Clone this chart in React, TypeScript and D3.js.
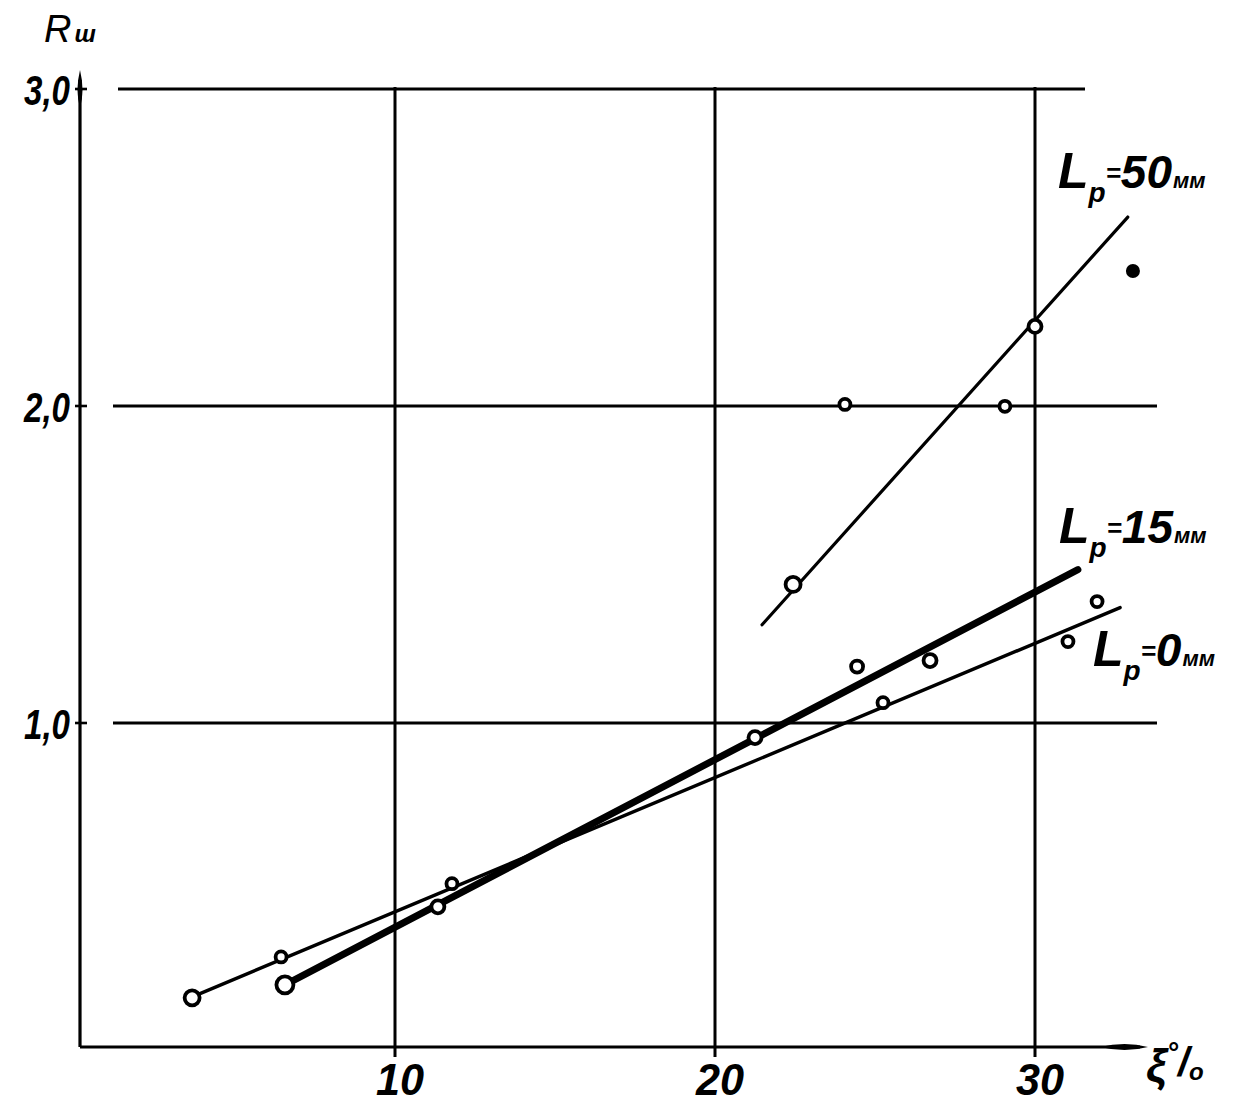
// Rш vs ξ% for three Lр values — scanned hand-drawn chart redrawn with d3 scales.
import * as d3 from "d3";

const yTicks = [1, 2, 3];
const yTickLabels = ["1,0", "2,0", "3,0"];
const xTicks = [10, 20, 30];
const xTickLabels = ["10", "20", "30"];

// measured points (ξ %, Rш)
const pts50 = [
  { x: 22.44, y: 1.437, r: 7.5 },
  { x: 24.06, y: 2.005, r: 5.5 },
  { x: 29.06, y: 1.999, r: 5.5 },
  { x: 30.0, y: 2.251, r: 6.5 },
];
const dot50 = [{ x: 33.06, y: 2.426 }];
const pts15 = [
  { x: 6.56, y: 0.174, r: 8.5 },
  { x: 11.34, y: 0.42, r: 6.5 },
  { x: 21.25, y: 0.954, r: 6.5 },
  { x: 24.44, y: 1.178, r: 6 },
  { x: 26.72, y: 1.197, r: 6.5 },
];
const pts0 = [
  { x: 3.66, y: 0.133, r: 7.5 },
  { x: 6.44, y: 0.262, r: 5.5 },
  { x: 11.78, y: 0.493, r: 5.5 },
  { x: 25.25, y: 1.064, r: 5.5 },
  { x: 31.03, y: 1.257, r: 5.5 },
  { x: 31.94, y: 1.383, r: 5.5 },
];
// fitted straight lines [x0, y0, x1, y1]
const fit50 = [21.47, 1.31, 32.9, 2.596];
const fit15 = [6.56, 0.174, 31.34, 1.484];
const fit0 = [3.59, 0.133, 32.66, 1.364];

const x = d3.scaleLinear().domain([0, 10]).range([75, 395]);
const y = d3.scaleLinear().domain([0, 1]).range([1040, 723]);

const FONT = "'Liberation Sans', Arial, sans-serif";
const INK = "#000";

function Fit({ f, w }: { f: number[]; w: number }) {
  return (
    <line x1={x(f[0])} y1={y(f[1])} x2={x(f[2])} y2={y(f[3])}
          stroke={INK} strokeWidth={w} strokeLinecap="round" />
  );
}

function Circles({ data }: { data: { x: number; y: number; r: number }[] }) {
  return (
    <g>
      {data.map((d, i) => (
        <circle key={i} cx={x(d.x)} cy={y(d.y)} r={d.r}
                fill="#fff" stroke={INK} strokeWidth={3.8} />
      ))}
    </g>
  );
}

function Lp({ px, py, val }: { px: number; py: number; val: string }) {
  // "Lр=50мм" lettering: big L, subscript р, "=", number, subscript мм
  return (
    <text x={px} y={py} fontFamily={FONT} fontWeight="bold" fontStyle="italic" fill={INK}>
      <tspan fontSize={50}>L</tspan>
      <tspan fontSize={28} dy={14}>р</tspan>
      <tspan fontSize={26} dy={-20}>=</tspan>
      <tspan fontSize={46} dy={6}>{val}</tspan>
      <tspan fontSize={22} dx={1}>мм</tspan>
    </text>
  );
}

export default function App() {
  const W = 1235, H = 1106;
  const axisY = 1047, axisX = 80;
  return (
    <svg width={W} height={H} viewBox={`0 0 ${W} ${H}`}
         style={{ display: "block", margin: -8, background: "#fff" }}>
      {/* horizontal grid */}
      {yTicks.map((t) => (
        <line key={t} x1={t === 3 ? 118 : 113} x2={t === 3 ? 1085 : 1157}
              y1={y(t)} y2={y(t)} stroke={INK} strokeWidth={3} />
      ))}
      {/* vertical grid */}
      {xTicks.map((t) => (
        <line key={t} x1={x(t)} x2={x(t)} y1={y(3) - 2} y2={axisY + 10}
              stroke={INK} strokeWidth={3} />
      ))}

      {/* axes */}
      <line x1={axisX} x2={1140} y1={axisY} y2={axisY} stroke={INK} strokeWidth={3.2} />
      <line x1={axisX} x2={axisX} y1={axisY} y2={80} stroke={INK} strokeWidth={3.2} />
      <path d={`M1100,${axisY} Q1125,${axisY - 6} 1148,${axisY} Q1125,${axisY + 6} 1100,${axisY} Z`} fill={INK} />
      <path d={`M${axisX},108 Q${axisX - 5},90 ${axisX},70 Q${axisX + 5},90 ${axisX},108 Z`} fill={INK} />
      {yTicks.map((t) => (
        <line key={t} x1={axisX - 5} x2={axisX + 7} y1={y(t)} y2={y(t)} stroke={INK} strokeWidth={2.6} />
      ))}

      {/* tick labels */}
      {yTicks.map((t, i) => (
        <text key={t} x={70} y={y(t) + 16} textAnchor="end" fontFamily={FONT}
              fontWeight="bold" fontStyle="italic" fontSize={42} fill={INK}
              textLength={46} lengthAdjust="spacingAndGlyphs">{yTickLabels[i]}</text>
      ))}
      {xTicks.map((t, i) => (
        <text key={t} x={x(t) + 5} y={1095} textAnchor="middle" fontFamily={FONT}
              fontWeight="bold" fontStyle="italic" fontSize={44} fill={INK}
              textLength={48} lengthAdjust="spacingAndGlyphs">{xTickLabels[i]}</text>
      ))}

      {/* axis titles */}
      <text x={44} y={42} fontFamily={FONT} fontStyle="italic" fill={INK}>
        <tspan fontSize={38}>R</tspan>
        <tspan fontSize={24} fontWeight="bold" dx={3}>ш</tspan>
      </text>
      <text x={1146} y={1082} fontFamily={FONT} fontWeight="bold" fontStyle="italic" fill={INK}>
        <tspan fontSize={46}>ξ</tspan>
        <tspan fontSize={28} dy={-20}>°</tspan>
        <tspan fontSize={40} dy={14}>/</tspan>
        <tspan fontSize={24} dy={4}>o</tspan>
      </text>

      {/* fitted lines */}
      <Fit f={fit50} w={3.2} />
      <Fit f={fit0} w={3.4} />
      <Fit f={fit15} w={7} />

      {/* markers */}
      <Circles data={pts50} />
      <Circles data={pts15} />
      <Circles data={pts0} />
      {dot50.map((d, i) => (
        <circle key={i} cx={x(d.x)} cy={y(d.y)} r={7} fill={INK} />
      ))}

      {/* curve labels */}
      <Lp px={1058} py={188} val="50" />
      <Lp px={1059} py={543} val="15" />
      <Lp px={1093} py={666} val="0" />
    </svg>
  );
}
